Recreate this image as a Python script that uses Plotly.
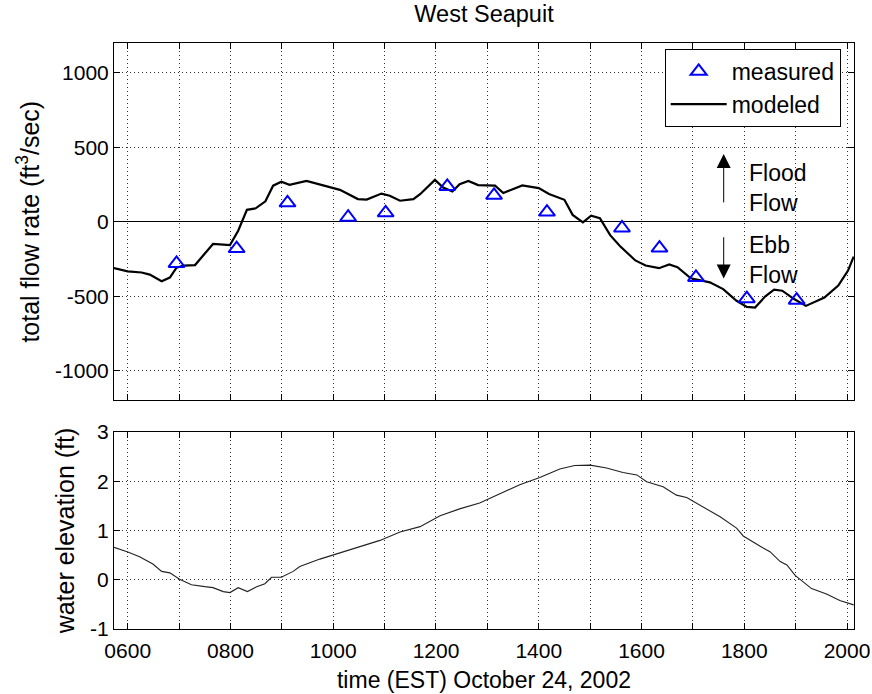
import plotly.graph_objects as go

# ---- data (time in decimal hours, EST, October 24, 2002) ----
modeled_time = [5.73, 6.0, 6.27, 6.43, 6.66, 6.82, 6.95, 7.09, 7.31, 7.66, 7.99, 8.15, 8.32, 8.49,
                8.68, 8.83, 8.99, 9.15, 9.48, 9.74, 10.0, 10.13, 10.48, 10.65, 10.94, 11.10, 11.30,
                11.56, 11.69, 11.98, 12.14, 12.32, 12.46, 12.63, 12.82, 13.15, 13.31, 13.68, 14.0,
                14.2, 14.5, 14.66, 14.86, 15.02, 15.19, 15.39, 15.58, 15.88, 16.08, 16.34, 16.54,
                16.70, 16.96, 17.33, 17.59, 17.85, 18.05, 18.21, 18.41, 18.58, 18.74, 18.97, 19.2,
                19.56, 19.83, 20.02, 20.13]
modeled_flow = [-311, -333, -341, -355, -400, -375, -308, -295, -291, -149, -157, -60, 80, 90,
                137, 242, 269, 248, 274, 252, 230, 214, 152, 149, 189, 174, 141,
                152, 185, 281, 230, 203, 252, 274, 246, 242, 193, 244, 226,
                186, 147, 46, -4, 41, 23, -90, -163, -260, -294, -312, -287,
                -305, -380, -407, -452, -531, -572, -576, -501, -456, -463, -519, -565,
                -509, -429, -328, -234]

measured_time = [6.95, 8.12, 9.11, 10.29, 11.02, 12.22, 13.13, 14.16, 15.62, 16.35, 17.06, 18.05, 19.02]
measured_flow = [-280, -180, 127, 30, 60, 237, 177, 65, -42, -177, -374, -517, -527]

elev_time = [5.73, 5.99, 6.23, 6.49, 6.66, 6.82, 7.01, 7.24, 7.50, 7.66, 7.86, 7.99, 8.15, 8.33,
             8.51, 8.67, 8.80, 8.99, 9.22, 9.35, 9.74, 10.13, 10.52, 10.91, 11.30, 11.69, 12.08,
             12.46, 12.85, 13.24, 13.63, 14.02, 14.41, 14.70, 15.0, 15.32, 15.64, 15.91, 16.10,
             16.42, 16.68, 16.88, 17.14, 17.53, 17.85, 17.98, 18.31, 18.50, 18.70, 18.83, 18.99,
             19.31, 19.60, 19.86, 20.13]
elev_ft = [0.66, 0.57, 0.47, 0.32, 0.17, 0.14, 0.01, -0.10, -0.14, -0.16, -0.24, -0.26, -0.16, -0.24,
           -0.14, -0.08, 0.05, 0.05, 0.17, 0.27, 0.42, 0.55, 0.68, 0.80, 0.97, 1.08, 1.30,
           1.44, 1.56, 1.74, 1.93, 2.08, 2.25, 2.32, 2.33, 2.27, 2.18, 2.13, 1.99,
           1.89, 1.72, 1.67, 1.52, 1.28, 1.05, 0.89, 0.68, 0.57, 0.37, 0.30, 0.09,
           -0.18, -0.29, -0.42, -0.51]

hour_ticks = list(range(6, 21))
hour_labels = ["%02d00" % h if h % 2 == 0 else "" for h in hour_ticks]
flow_ticks = [-1000, -500, 0, 500, 1000]
elev_ticks = [-1, 0, 1, 2, 3]

FONT = "Liberation Sans, Arial, Helvetica, sans-serif"
FS = 21
GRID = dict(showgrid=True, gridcolor="#333333", griddash="1px,3px", gridwidth=1)
FRAME = dict(showline=True, linecolor="black", linewidth=1, mirror="ticks",
             ticks="inside", ticklen=6, tickcolor="black", tickwidth=1, automargin=False)

fig = go.Figure()

fig.add_trace(go.Scatter(x=modeled_time, y=modeled_flow, mode="lines", name="modeled",
                         line=dict(color="black", width=2.2), xaxis="x", yaxis="y"))
fig.add_trace(go.Scatter(x=measured_time, y=measured_flow, mode="markers", name="measured",
                         marker=dict(symbol="triangle-up-open", size=14, color="#0000ff",
                                     line=dict(width=2, color="#0000ff")),
                         xaxis="x", yaxis="y"))
fig.add_trace(go.Scatter(x=elev_time, y=elev_ft, mode="lines", showlegend=False,
                         line=dict(color="#222222", width=1.1), xaxis="x2", yaxis="y2"))

xr = [5.733, 20.136]
fig.update_layout(
    width=872, height=694,
    margin=dict(l=114, r=18, t=43, b=65),
    paper_bgcolor="white", plot_bgcolor="white",
    font=dict(family=FONT, size=FS, color="black"),
    title=dict(text="West Seapuit", x=0.5, xref="paper", xanchor="center",
               y=1 - 14 / 694, yref="container", yanchor="middle",
               font=dict(size=23.5, family=FONT, color="black")),
    xaxis=dict(domain=[0, 1], range=xr, anchor="y", tickvals=hour_ticks, ticktext=hour_labels,
               showticklabels=False, zeroline=False, **GRID, **FRAME),
    yaxis=dict(domain=[0.39, 1], range=[-1200, 1200], anchor="x", tickvals=flow_ticks,
               ticktext=[str(v) for v in flow_ticks],
               zeroline=True, zerolinecolor="black", zerolinewidth=1,
               title=dict(text="total flow rate (ft<sup>3</sup>/sec)", standoff=8,
                          font=dict(size=25)),
               **GRID, **FRAME),
    xaxis2=dict(domain=[0, 1], range=xr, anchor="y2", tickvals=hour_ticks, ticktext=hour_labels,
                zeroline=False, ticklabelstandoff=3,
                title=dict(text="time (EST) October 24, 2002", standoff=10,
                           font=dict(size=23)),
                **GRID, **FRAME),
    yaxis2=dict(domain=[0, 0.336], range=[-1, 3], anchor="x2", tickvals=elev_ticks,
                ticktext=[str(v) for v in elev_ticks], zeroline=False,
                title=dict(text="water elevation (ft)", standoff=8, font=dict(size=25)),
                **GRID, **FRAME),
    legend=dict(x=0.982, y=0.99, xanchor="right", yanchor="top", traceorder="reversed",
                bgcolor="white", bordercolor="black", borderwidth=1,
                font=dict(size=23, family=FONT), itemwidth=56, tracegroupgap=0),
    showlegend=True,
)

# flow-direction arrows and labels
fig.add_annotation(x=17.60, y=455, ax=17.60, ay=120, xref="x", yref="y", axref="x", ayref="y",
                   text="", showarrow=True, arrowhead=2, arrowsize=2.8, arrowwidth=1,
                   arrowcolor="black")
fig.add_annotation(x=17.60, y=-381, ax=17.60, ay=-94, xref="x", yref="y", axref="x", ayref="y",
                   text="", showarrow=True, arrowhead=2, arrowsize=2.8, arrowwidth=1,
                   arrowcolor="black")
fig.add_annotation(x=18.05, y=224, xref="x", yref="y", text="Flood<br>Flow", showarrow=False,
                   xanchor="left", yanchor="middle", align="left", font=dict(size=23))
fig.add_annotation(x=18.05, y=-256, xref="x", yref="y", text="Ebb<br>Flow", showarrow=False,
                   xanchor="left", yanchor="middle", align="left", font=dict(size=23))

fig.write_html("out.html")
